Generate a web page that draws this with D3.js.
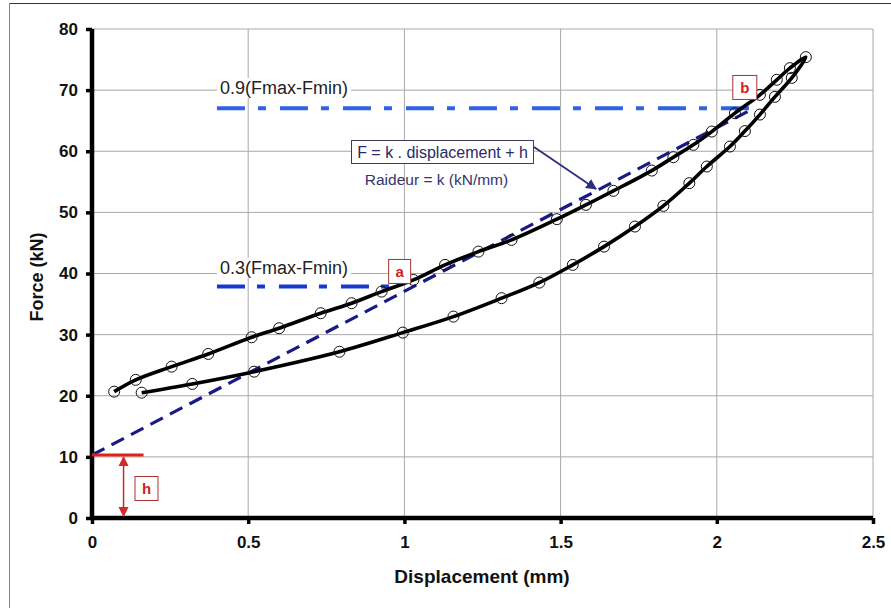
<!DOCTYPE html>
<html><head><meta charset="utf-8">
<script src="https://cdn.jsdelivr.net/npm/d3@7"></script>
<style>
html,body{margin:0;padding:0;background:#fff;}
svg{display:block;font-family:"Liberation Sans",Arial,sans-serif;}
</style></head>
<body>
<svg id="chart" width="891" height="608"></svg>
<script>
// ---- data ----
const xTicks = [0, 0.5, 1, 1.5, 2, 2.5];
const yTicks = [0, 10, 20, 30, 40, 50, 60, 70, 80];
const upperX = [0.071,0.140,0.255,0.372,0.511,0.599,0.732,0.831,0.927,1.029,1.130,1.237,1.343,1.488,1.581,1.669,1.792,1.861,1.925,1.984,2.058,2.138,2.192,2.234,2.285];
const upperY = [20.67,22.6,24.76,26.84,29.57,31.05,33.5,35.14,37.04,38.95,41.41,43.58,45.5,48.89,51.23,53.52,56.84,59.03,61.05,63.22,66.23,69.23,71.69,73.6,75.4];
const lowerX = [0.159,0.321,0.519,0.792,0.995,1.157,1.311,1.432,1.539,1.639,1.738,1.829,1.912,1.968,2.042,2.090,2.138,2.186,2.240];
const lowerY = [20.5,21.93,23.94,27.2,30.33,32.95,35.96,38.51,41.41,44.4,47.68,51.06,54.78,57.5,60.77,63.3,66.0,68.9,72.0];
const fitX = [0, 2.11];
const fitY = [10.3, 66.8];
const level90X = [0.40, 2.11], level90Y = 67.05;
const level30X = [0.40, 0.97], level30Y = 37.86;
const hValue = 10.3;
const labelA = {x: 0.98, y: 40.5, text: "a"};
const labelB = {x: 2.08, y: 70.6, text: "b"};

// ---- layout ----
const svg = d3.select("#chart");
const x = d3.scaleLinear().domain([0, 2.5]).range([92, 873]);
const y = d3.scaleLinear().domain([0, 80]).range([518, 29]);

// outer frame
svg.append("line").attr("x1",9).attr("x2",891).attr("y1",3.5).attr("y2",3.5).attr("stroke","#333").attr("stroke-width",1);
svg.append("line").attr("x1",9.5).attr("x2",9.5).attr("y1",3).attr("y2",608).attr("stroke","#888").attr("stroke-width",1);

// grid
const grid = svg.append("g");
grid.selectAll(".gx").data(xTicks.slice(1)).join("line")
  .attr("x1",d=>x(d)).attr("x2",d=>x(d)).attr("y1",y(80)).attr("y2",y(0))
  .attr("stroke","#a8a8a8").attr("stroke-width",1);
grid.selectAll(".gy").data(yTicks.slice(1)).join("line")
  .attr("x1",x(0)).attr("x2",x(2.5)).attr("y1",d=>y(d)).attr("y2",d=>y(d))
  .attr("stroke","#a8a8a8").attr("stroke-width",1);

// axes
const xAxis = d3.axisBottom(x).tickValues(xTicks).tickSize(6).tickPadding(12).tickFormat(d3.format("~g"));
const yAxis = d3.axisLeft(y).tickValues(yTicks).tickSize(6).tickPadding(8);
const gx = svg.append("g").attr("transform",`translate(0,${y(0)})`).call(xAxis);
const gy = svg.append("g").attr("transform",`translate(${x(0)},0)`).call(yAxis);
[gx, gy].forEach(g => {
  g.select(".domain").attr("stroke","#000").attr("stroke-width",4.5);
  g.selectAll(".tick line").attr("stroke","#000").attr("stroke-width",3.5);
  g.selectAll(".tick text").attr("fill","#111").style("font-size","17px").style("font-weight","bold")
   .style("font-family","'Liberation Sans',Arial,sans-serif");
});
gx.select(".domain").attr("d", `M${x(0)},0H${x(2.5)}`);
gy.select(".domain").attr("d", `M0,${y(80)}V${y(0)}`);

// axis titles
svg.append("text").attr("x",482).attr("y",583).attr("text-anchor","middle")
  .style("font-size","19px").style("font-weight","bold").attr("fill","#111").text("Displacement (mm)");
svg.append("text").attr("transform","translate(43,277) rotate(-90)").attr("text-anchor","middle")
  .style("font-size","18px").style("font-weight","bold").attr("fill","#111").text("Force (kN)");

// level labels (white background)
function levelLabel(txt, xv, yv) {
  const t = svg.append("text").attr("x",x(xv)).attr("y",y(yv)).attr("dy","0.35em")
    .style("font-size","18px").attr("fill","#222").text(txt);
  const bb = t.node().getBBox();
  svg.insert("rect", () => t.node()).attr("x",bb.x-3).attr("y",bb.y).attr("width",bb.width+6).attr("height",bb.height).attr("fill","#fff");
}
levelLabel("0.9(Fmax-Fmin)", 0.41, 70.4);
levelLabel("0.3(Fmax-Fmin)", 0.41, 41.0);

// level dash-dot lines
svg.append("line").attr("x1",x(level90X[0])).attr("x2",x(level90X[1])).attr("y1",y(level90Y)).attr("y2",y(level90Y))
  .attr("stroke","#2f62e6").attr("stroke-width",4).attr("stroke-dasharray","28,13,8,14");
svg.append("line").attr("x1",x(level30X[0])).attr("x2",x(level30X[1])).attr("y1",y(level30Y)).attr("y2",y(level30Y))
  .attr("stroke","#1738d0").attr("stroke-width",4).attr("stroke-dasharray","28,12,8,14");

// fit line
svg.append("line").attr("x1",x(fitX[0])).attr("x2",x(fitX[1])).attr("y1",y(fitY[0])).attr("y2",y(fitY[1]))
  .attr("stroke","#1a1a86").attr("stroke-width",3.2).attr("stroke-dasharray","14,8");

// hysteresis loop
const upper = upperX.map((v,i)=>[v, upperY[i]]);
const lower = lowerX.map((v,i)=>[v, lowerY[i]]);
const loop = upper.concat(lower.slice().reverse());
const line = d3.line().x(d=>x(d[0])).y(d=>y(d[1])).curve(d3.curveCatmullRom.alpha(0.5));
svg.append("path").attr("d", line(loop)).attr("fill","none").attr("stroke","#000").attr("stroke-width",3.6).attr("stroke-linejoin","round");
svg.append("g").selectAll("circle").data(upper.concat(lower)).join("circle")
  .attr("cx",d=>x(d[0])).attr("cy",d=>y(d[1])).attr("r",5.5)
  .attr("fill","none").attr("stroke","#111").attr("stroke-width",1);

// h annotation
svg.append("defs").html(`
<marker id="ar" viewBox="0 0 10 10" refX="9" refY="5" markerWidth="7" markerHeight="7" orient="auto-start-reverse"><path d="M0,0L10,5L0,10z" fill="#d42a2a"/></marker>
<marker id="an" viewBox="0 0 10 10" refX="9" refY="5" markerWidth="6" markerHeight="6" orient="auto"><path d="M0,0L10,5L0,10z" fill="#2e2e80"/></marker>`);
svg.append("line").attr("x1",x(0)).attr("x2",x(0.165)).attr("y1",y(hValue)).attr("y2",y(hValue))
  .attr("stroke","#e0201e").attr("stroke-width",3);
svg.append("line").attr("x1",x(0.101)).attr("x2",x(0.101)).attr("y1",y(hValue)+2).attr("y2",y(0)-2)
  .attr("stroke","#c82828").attr("stroke-width",1.5).attr("marker-start","url(#ar)").attr("marker-end","url(#ar)");

function boxLabel(txt, cx, cy, w, h) {
  svg.append("rect").attr("x",cx-w/2).attr("y",cy-h/2).attr("width",w).attr("height",h)
    .attr("fill","#fff").attr("stroke","#a83232").attr("stroke-width",1);
  svg.append("text").attr("x",cx).attr("y",cy).attr("dy","0.35em").attr("text-anchor","middle")
    .style("font-size","15px").style("font-weight","bold").attr("fill","#d42020").text(txt);
}
boxLabel("h", 146.5, 488.5, 23, 24);
boxLabel(labelA.text, x(labelA.x)+1.5, y(labelA.y)+1, 22, 24);
boxLabel(labelB.text, x(labelB.x)+3, y(labelB.y)+1, 24, 24);

// equation annotation
svg.append("rect").attr("x",351.5).attr("y",140.5).attr("width",182).attr("height",23)
  .attr("fill","#fff").attr("stroke","#3a3a6e").attr("stroke-width",1);
svg.append("text").attr("x",442.5).attr("y",152).attr("dy","0.35em").attr("text-anchor","middle")
  .style("font-size","16px").attr("fill","#2a2a66").text("F = k . displacement + h");
svg.append("text").attr("x",436.5).attr("y",180).attr("dy","0.35em").attr("text-anchor","middle")
  .style("font-size","15.5px").attr("fill","#34346e").text("Raideur = k (kN/mm)");
svg.append("line").attr("x1",534).attr("y1",147).attr("x2",596).attr("y2",189)
  .attr("stroke","#2e2e80").attr("stroke-width",1.8).attr("marker-end","url(#an)");
</script>
</body></html>
